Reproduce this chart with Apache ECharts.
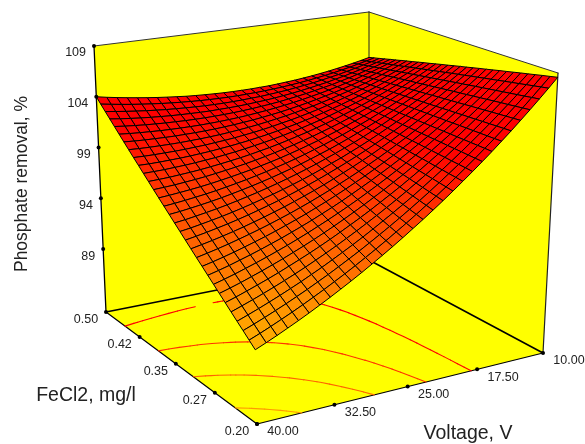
<!DOCTYPE html>
<html><head><meta charset="utf-8">
<script src="https://cdn.jsdelivr.net/npm/echarts@6/dist/echarts.min.js"></script>
<style>html,body{margin:0;padding:0;background:#fff}#c{width:585px;height:444px}</style>
</head><body><div id="c"></div>
<script>
const voltageTicks=[40,32.5,25,17.5,10];
const voltageLabels=['40.00','32.50','25.00','17.50','10.00'];
const fecl2Ticks=[0.2,0.275,0.35,0.425,0.5];
const fecl2Labels=['0.20','0.27','0.35','0.42','0.50'];
const removalTicks=[89,94,99,104,109];
const contourLevels=[91.2,95,98.4,101.9];
// Phosphate removal read from the surface: rows run FeCl2 0.20 -> 0.50, columns run Voltage 10 -> 40
const zTable=[
[108.60,107.72,106.86,106.01,105.18,104.36,103.57,102.78,102.02,101.27,100.54,99.82,99.12,98.44,97.77,97.13,96.49,95.87,95.27,94.69,94.12,93.57,93.04,92.52,92.02,91.53,91.06,90.61,90.17,89.75,89.35],
[108.45,107.60,106.76,105.93,105.12,104.33,103.55,102.80,102.05,101.33,100.62,99.92,99.24,98.58,97.94,97.31,96.70,96.10,95.52,94.96,94.41,93.88,93.37,92.87,92.39,91.92,91.47,91.04,90.62,90.22,89.84],
[108.31,107.47,106.65,105.85,105.07,104.30,103.54,102.81,102.08,101.38,100.69,100.02,99.36,98.72,98.10,97.49,96.90,96.33,95.77,95.22,94.70,94.19,93.69,93.22,92.75,92.31,91.88,91.47,91.07,90.69,90.33],
[108.16,107.35,106.55,105.77,105.01,104.26,103.53,102.82,102.12,101.43,100.77,100.12,99.48,98.86,98.26,97.68,97.11,96.55,96.01,95.49,94.99,94.50,94.02,93.57,93.12,92.70,92.29,91.90,91.52,91.16,90.81],
[108.01,107.22,106.45,105.70,104.96,104.23,103.52,102.83,102.15,101.49,100.84,100.21,99.60,99.00,98.42,97.86,97.31,96.78,96.26,95.76,95.27,94.80,94.35,93.91,93.49,93.09,92.70,92.33,91.97,91.63,91.30],
[107.87,107.10,106.35,105.62,104.90,104.19,103.51,102.84,102.18,101.54,100.92,100.31,99.72,99.14,98.59,98.05,97.51,97.00,96.51,96.03,95.56,95.11,94.68,94.27,93.87,93.48,93.11,92.76,92.42,92.09,91.79],
[107.72,106.98,106.25,105.54,104.84,104.16,103.50,102.85,102.22,101.60,101.00,100.41,99.84,99.29,98.75,98.23,97.72,97.23,96.75,96.29,95.85,95.42,95.01,94.62,94.23,93.87,93.52,93.19,92.86,92.56,92.28],
[107.57,106.85,106.15,105.46,104.79,104.13,103.49,102.86,102.25,101.65,101.07,100.51,99.96,99.43,98.91,98.41,97.92,97.45,97.00,96.56,96.14,95.73,95.34,94.96,94.60,94.26,93.93,93.62,93.31,93.03,92.77],
[107.43,106.73,106.05,105.38,104.73,104.09,103.47,102.87,102.28,101.71,101.15,100.60,100.08,99.57,99.07,98.60,98.13,97.67,97.24,96.83,96.42,96.04,95.67,95.31,94.98,94.65,94.34,94.05,93.76,93.50,93.26],
[107.28,106.61,105.95,105.30,104.67,104.06,103.46,102.88,102.31,101.76,101.23,100.70,100.20,99.71,99.23,98.78,98.33,97.90,97.49,97.10,96.71,96.35,96.00,95.66,95.34,95.04,94.75,94.47,94.21,93.97,93.75],
[107.13,106.48,105.85,105.22,104.62,104.02,103.45,102.89,102.35,101.81,101.30,100.80,100.31,99.85,99.39,98.96,98.54,98.13,97.74,97.36,97.00,96.65,96.33,96.01,95.71,95.43,95.16,94.90,94.66,94.44,94.23],
[106.99,106.36,105.74,105.15,104.56,103.99,103.44,102.90,102.38,101.87,101.38,100.90,100.43,99.99,99.56,99.15,98.74,98.35,97.98,97.63,97.29,96.96,96.66,96.36,96.08,95.81,95.56,95.33,95.11,94.91,94.72],
[106.84,106.23,105.65,105.07,104.51,103.95,103.43,102.91,102.41,101.92,101.46,101.00,100.55,100.13,99.72,99.33,98.95,98.58,98.23,97.90,97.58,97.27,96.99,96.71,96.45,96.20,95.97,95.76,95.56,95.38,95.21],
[106.69,106.11,105.54,104.99,104.45,103.92,103.42,102.92,102.44,101.98,101.53,101.09,100.67,100.27,99.88,99.52,99.15,98.80,98.47,98.16,97.86,97.58,97.32,97.06,96.82,96.59,96.38,96.19,96.01,95.84,95.70],
[106.55,105.99,105.44,104.91,104.39,103.89,103.41,102.93,102.48,102.03,101.61,101.19,100.79,100.41,100.04,99.70,99.35,99.03,98.72,98.43,98.15,97.89,97.64,97.41,97.19,96.98,96.79,96.62,96.46,96.31,96.19],
[106.40,105.86,105.34,104.83,104.34,103.85,103.40,102.94,102.51,102.09,101.68,101.29,100.91,100.55,100.20,99.88,99.56,99.25,98.97,98.70,98.44,98.20,97.97,97.76,97.56,97.37,97.20,97.05,96.91,96.78,96.68],
[106.25,105.74,105.24,104.75,104.28,103.82,103.38,102.95,102.54,102.14,101.76,101.39,101.03,100.70,100.37,100.07,99.76,99.48,99.21,98.97,98.73,98.51,98.30,98.11,97.93,97.76,97.61,97.48,97.36,97.25,97.16],
[106.11,105.61,105.14,104.67,104.23,103.79,103.37,102.96,102.57,102.20,101.84,101.49,101.15,100.84,100.53,100.25,99.97,99.71,99.46,99.23,99.02,98.81,98.63,98.46,98.30,98.15,98.02,97.91,97.81,97.72,97.65],
[105.96,105.49,105.04,104.60,104.17,103.75,103.36,102.97,102.61,102.25,101.91,101.58,101.27,100.98,100.69,100.43,100.17,99.93,99.71,99.50,99.30,99.12,98.96,98.81,98.67,98.54,98.43,98.34,98.25,98.19,98.14],
[105.81,105.37,104.94,104.52,104.11,103.72,103.35,102.98,102.64,102.30,101.99,101.68,101.39,101.12,100.85,100.62,100.38,100.16,99.95,99.77,99.59,99.43,99.29,99.16,99.04,98.93,98.84,98.77,98.70,98.66,98.63],
[105.67,105.24,104.84,104.44,104.06,103.68,103.34,102.99,102.67,102.36,102.07,101.78,101.51,101.26,101.02,100.80,100.58,100.38,100.20,100.04,99.88,99.74,99.62,99.50,99.41,99.32,99.25,99.20,99.15,99.13,99.12],
[105.52,105.12,104.74,104.36,104.00,103.65,103.33,103.00,102.70,102.41,102.14,101.88,101.63,101.40,101.18,100.98,100.79,100.61,100.45,100.30,100.17,100.05,99.95,99.85,99.78,99.71,99.66,99.63,99.60,99.59,99.61],
[105.37,104.99,104.63,104.28,103.94,103.62,103.32,103.01,102.74,102.47,102.22,101.97,101.75,101.54,101.34,101.17,100.99,100.83,100.69,100.57,100.45,100.36,100.28,100.20,100.15,100.10,100.07,100.06,100.05,100.06,100.09],
[105.23,104.87,104.53,104.20,103.89,103.58,103.30,103.02,102.77,102.52,102.29,102.07,101.87,101.68,101.50,101.35,101.20,101.06,100.94,100.84,100.74,100.66,100.60,100.55,100.52,100.49,100.48,100.49,100.50,100.53,100.58],
[105.08,104.75,104.43,104.12,103.83,103.55,103.29,103.03,102.80,102.58,102.37,102.17,101.99,101.82,101.66,101.53,101.40,101.28,101.19,101.10,101.03,100.97,100.93,100.90,100.89,100.88,100.89,100.92,100.95,101.00,101.07],
[104.93,104.62,104.33,104.04,103.78,103.51,103.28,103.04,102.83,102.63,102.45,102.27,102.11,101.96,101.83,101.71,101.61,101.51,101.43,101.37,101.32,101.28,101.26,101.25,101.26,101.27,101.30,101.35,101.40,101.47,101.56],
[104.79,104.50,104.23,103.97,103.72,103.48,103.27,103.05,102.87,102.69,102.52,102.37,102.23,102.10,101.99,101.90,101.81,101.74,101.68,101.64,101.61,101.59,101.59,101.60,101.63,101.66,101.71,101.77,101.85,101.94,102.05],
[104.64,104.38,104.13,103.89,103.66,103.45,103.26,103.06,102.90,102.74,102.60,102.46,102.35,102.24,102.15,102.08,102.01,101.96,101.93,101.91,101.89,101.90,101.92,101.95,101.99,102.05,102.12,102.20,102.30,102.41,102.54],
[104.49,104.25,104.03,103.81,103.61,103.41,103.25,103.08,102.93,102.80,102.68,102.56,102.47,102.39,102.31,102.27,102.22,102.19,102.17,102.17,102.18,102.21,102.25,102.30,102.36,102.44,102.53,102.63,102.75,102.88,103.02],
[104.35,104.13,103.93,103.73,103.55,103.38,103.23,103.09,102.96,102.85,102.75,102.66,102.59,102.53,102.48,102.45,102.42,102.41,102.42,102.44,102.47,102.52,102.58,102.65,102.73,102.83,102.94,103.06,103.20,103.35,103.51],
[104.20,104.00,103.82,103.65,103.50,103.35,103.22,103.10,103.00,102.90,102.83,102.76,102.70,102.67,102.64,102.63,102.63,102.64,102.67,102.71,102.76,102.82,102.91,103.00,103.10,103.22,103.35,103.49,103.64,103.81,104.00]
];
const N=zTable.length-1;
const V0=10,V1=40,F0=0.2,F1=0.5,Z0=82.8,Z1=109;
function homography(P00,P10,P01,P11){
 const det=(a,b,c,d)=>a*d-b*c;
 const dx1=P10[0]-P11[0],dx2=P01[0]-P11[0],sx=P00[0]-P10[0]-P01[0]+P11[0];
 const dy1=P10[1]-P11[1],dy2=P01[1]-P11[1],sy=P00[1]-P10[1]-P01[1]+P11[1];
 const D=det(dx1,dx2,dy1,dy2);
 const g=det(sx,dx2,sy,dy2)/D,h=det(dx1,sx,dy1,sy)/D;
 const a=P10[0]-P00[0]+g*P10[0],b=P01[0]-P00[0]+h*P01[0],c=P00[0];
 const d=P10[1]-P00[1]+g*P10[1],e=P01[1]-P00[1]+h*P01[1],f=P00[1];
 return (t,s)=>{const w=g*t+h*s+1;return [(a*t+b*s+c)/w,(d*t+e*s+f)/w];};
}
// camera calibration: floor and ceiling of the box on the page
const floorH=homography([543,353],[257,424],[369,260],[106,312]);
const topH=homography([558,73],[250,127],[369,12],[94,46]);
function proj(t,s,l){const A=floorH(t,s),B=topH(t,s);return [A[0]+l*(B[0]-A[0]),A[1]+l*(B[1]-A[1])];}
const tOf=V=>(V-V0)/(V1-V0),sOf=F=>(F-F0)/(F1-F0),lOf=z=>(z-Z0)/(Z1-Z0);
function heat(z){const k=Math.max(0,Math.min(1,(102-z)/12.6));return 'rgb(255,'+Math.round(180*k)+',0)';}

const cells=[];
for(let j=N-1;j>=0;j--)for(let i=0;i<N;i++)cells.push([i,j]);
const segs=[];
contourLevels.forEach(L=>{
 for(let j=0;j<N;j++)for(let i=0;i<N;i++){
  const q=[[i,j],[i+1,j],[i+1,j+1],[i,j+1]],pts=[];
  for(let k=0;k<4;k++){const A=q[k],B=q[(k+1)%4],za=zTable[A[1]][A[0]],zb=zTable[B[1]][B[0]];
   if((za-L)*(zb-L)<0){const m=(L-za)/(zb-za);pts.push([(A[0]+m*(B[0]-A[0]))/N,(A[1]+m*(B[1]-A[1]))/N]);}}
  if(pts.length>=2)segs.push([pts[0][0],pts[0][1],pts[1][0],pts[1][1],L]);
 }});
const chart=echarts.init(document.getElementById('c'),null,{renderer:'canvas'});
const pt=(api,t,s,l)=>api.coord(proj(t,s,l));
function boxItem(pts,style){return {type:'polygon',shape:{points:pts},style};}
const yellow={fill:'#ffff00'};
const lineItem=(api,A,B,w,col)=>({type:'line',shape:{x1:pt(api,...A)[0],y1:pt(api,...A)[1],x2:pt(api,...B)[0],y2:pt(api,...B)[1]},style:{stroke:col,lineWidth:w,lineCap:'round'}});
const labelItem=(x,y,text,align,size,rot)=>({type:'text',x,y,rotation:rot||0,style:{text,x:0,y:0,fill:'#222',font:size+'px "Liberation Sans", Arial, sans-serif',textAlign:align,textVerticalAlign:'middle'}});
const tickItem=(p)=>({type:'circle',shape:{cx:p[0],cy:p[1],r:2},style:{fill:'#000'}});
const boxLines=[
 [[1,1,1],[0,1,1],1,'#333'],[[0,1,1],[0,0,1],1,'#333'],[[0,0,1],[0,0,0],1.2,'#222'],
 [[0,1,1],[0,1,0],1,'#222'],[[1,1,1],[1,1,0],1.3,'#000'],
 [[1,1,0],[1,0,0],1.2,'#000'],[[1,0,0],[0,0,0],1.2,'#000'],
 [[1,1,0],[0,1,0],1.6,'#000'],[[0,1,0],[0,0,0],1.6,'#000']];
const option={animation:false,
 grid:{left:0,right:0,top:0,bottom:0,containLabel:false},
 xAxis:{type:'value',min:0,max:585,show:false},
 yAxis:{type:'value',min:0,max:444,inverse:true,show:false},
 series:[
 {type:'custom',silent:true,z:1,data:[0],clip:false,renderItem:(p,api)=>({type:'group',children:[
   boxItem([pt(api,1,1,0),pt(api,0,1,0),pt(api,0,1,1),pt(api,1,1,1)],yellow),
   boxItem([pt(api,0,1,0),pt(api,0,0,0),pt(api,0,0,1),pt(api,0,1,1)],yellow),
   boxItem([pt(api,1,0,0),pt(api,0,0,0),pt(api,0,1,0),pt(api,1,1,0)],yellow),
   ...boxLines.map(l=>lineItem(api,l[0],l[1],l[2],l[3]))]})},
 {type:'custom',silent:true,z:2,data:segs,clip:false,renderItem:(p,api)=>{
   const A=pt(api,api.value(0),api.value(1),0),B=pt(api,api.value(2),api.value(3),0);
   return {type:'line',shape:{x1:A[0],y1:A[1],x2:B[0],y2:B[1]},style:{stroke:heat(api.value(4)),lineWidth:1.1,lineCap:'round'}};}},
 {type:'custom',silent:true,z:3,data:cells,clip:false,renderItem:(p,api)=>{
   const i=api.value(0),j=api.value(1);
   const q=[[i,j],[i+1,j],[i+1,j+1],[i,j+1]];
   let sum=0;const pts=q.map(([x,y])=>{const z=zTable[y][x];sum+=z;return pt(api,x/N,y/N,lOf(z));});
   return {type:'polygon',shape:{points:pts},style:{fill:heat(sum/4),stroke:'#000',lineWidth:1}};}},
 {type:'custom',silent:true,z:4,data:[0],clip:false,renderItem:(p,api)=>{
   const ch=[];
   removalTicks.forEach(z=>{const q=pt(api,1,1,lOf(z));ch.push(tickItem(q),labelItem(q[0]-8,q[1]+7,String(z),'right',12.5));});
   fecl2Ticks.forEach((F,k)=>{const q=pt(api,1,sOf(F),0);ch.push(tickItem(q),labelItem(q[0]-20,q[1]+8,fecl2Labels[k],'center',12.5));});
   voltageTicks.forEach((V,k)=>{const q=pt(api,tOf(V),0,0);ch.push(tickItem(q),labelItem(q[0]+26,q[1]+8,voltageLabels[k],'center',12.5));});
   ch.push(labelItem(22,184,'Phosphate removal, %','center',17.5,Math.PI/2));
   ch.push(labelItem(86,396,'FeCl2, mg/l','center',19.5));
   ch.push(labelItem(468,434,'Voltage, V','center',19.5));
   return {type:'group',children:ch};}}
 ]};
chart.setOption(option);
</script></body></html>
